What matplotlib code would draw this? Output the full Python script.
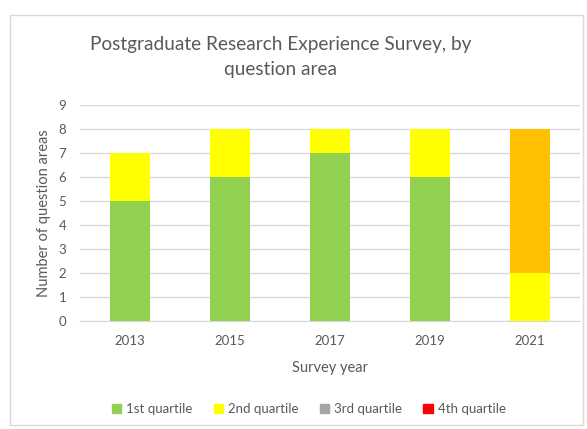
import numpy as np
import matplotlib
matplotlib.use('Agg')
import matplotlib.pyplot as plt
from matplotlib.patches import Rectangle, Patch

# Data
years = ['2013', '2015', '2017', '2019', '2021']
q1 = [5, 6, 7, 6, 0]
q2 = [2, 2, 1, 2, 2]
q3 = [0, 0, 0, 0, 6]
q4 = [0, 0, 0, 0, 0]

series_names = ['1st quartile', '2nd quartile', '3rd quartile', '4th quartile']
series_colors = ['#92D050', '#FFFF00', '#A5A5A5', '#FF0000']
# the 2021 3rd quartile bar is drawn in orange in the original
q3_colors = ['#A5A5A5', '#A5A5A5', '#A5A5A5', '#A5A5A5', '#FFC000']

plt.rcParams['font.family'] = ['Lato', 'DejaVu Sans']
text_col = '#595959'

fig = plt.figure(figsize=(5.87, 4.29), dpi=100)
ax = fig.add_axes([80 / 587, 1 - 321 / 429, 500 / 587, 216 / 429])

# chart frame
fig.patches.append(Rectangle((10 / 587, 4 / 429), 573 / 587, 410 / 429,
                             transform=fig.transFigure, fill=False,
                             edgecolor='#D9D9D9', linewidth=1))

x = np.arange(len(years))
w = 0.4
bottom = np.zeros(len(years))
all_series = [q1, q2, q3, q4]
for i, vals in enumerate(all_series):
    cols = q3_colors if i == 2 else series_colors[i]
    ax.bar(x, vals, w, bottom=bottom, color=cols, zorder=3)
    bottom += np.array(vals)

ax.set_xlim(-0.5, len(years) - 0.5)
ax.set_ylim(0, 9)
ax.set_yticks(range(0, 10))
ax.set_xticks(x)
ax.set_xticklabels(years)
ax.grid(axis='y', color='#D9D9D9', linewidth=1, zorder=0)
for s in ['top', 'right', 'left']:
    ax.spines[s].set_visible(False)
ax.spines['bottom'].set_color('#D9D9D9')
ax.tick_params(axis='both', length=0, labelsize=9.5, colors=text_col)
ax.tick_params(axis='y', pad=10)
ax.tick_params(axis='x', pad=10)

ax.set_xlabel('Survey year', fontsize=10.5, color=text_col, labelpad=10)
ax.set_ylabel('Number of question areas', fontsize=10.5, color=text_col, labelpad=5)

fig.text(281 / 587, 1 - 57 / 429, 'Postgraduate Research Experience Survey, by\nquestion area',
         ha='center', va='center', fontsize=13.7, color=text_col, linespacing=1.55)

handles = [Patch(color=c) for c in series_colors]
fig.legend(handles, series_names, loc='center', bbox_to_anchor=(0.526, 1 - 409 / 429),
           ncol=4, frameon=False, fontsize=9.5, labelcolor=text_col,
           handlelength=0.7, handleheight=0.7, handletextpad=0.4, columnspacing=1.6)

fig.savefig('out.png', dpi=100)
